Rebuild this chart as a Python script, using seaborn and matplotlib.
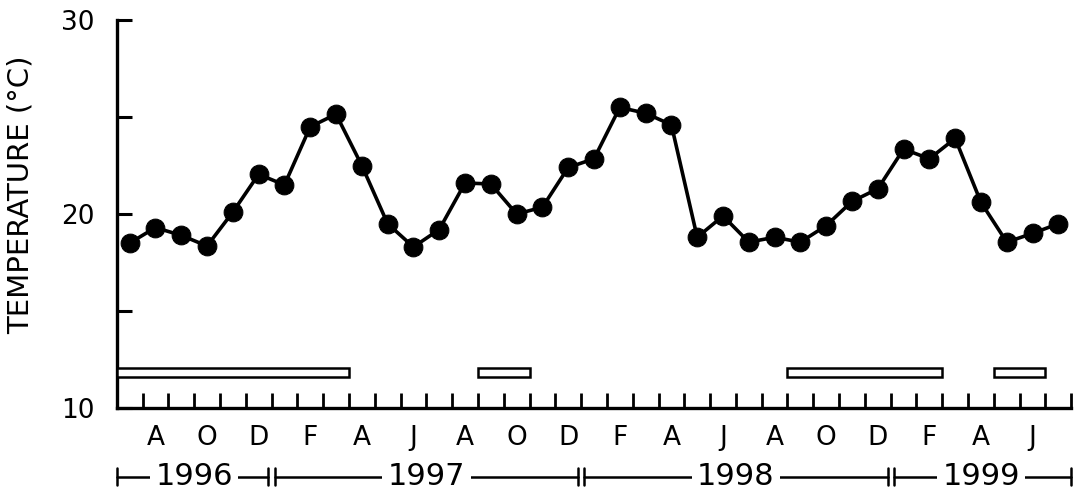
import numpy as np
import matplotlib
matplotlib.use("Agg")
import matplotlib.pyplot as plt
import matplotlib.transforms as mtransforms
import seaborn as sns

# Monthly water temperature, July 1996 - July 1999 (one value per month)
temperature = [
    18.5, 19.3, 18.9, 18.35, 20.1, 22.05, 21.5, 24.5, 25.15, 22.5,
    19.5, 18.3, 19.2, 21.6, 21.55, 20.0, 20.35, 22.4, 22.85,
    25.5, 25.2, 24.6, 18.8, 19.9, 18.55, 18.8, 18.55, 19.4, 20.65,
    21.3, 23.35, 22.85, 23.9, 20.6, 18.55, 19.0, 19.5,
]
# month initials starting from July
month_letters = ["J", "A", "S", "O", "N", "D", "J", "F", "M", "A", "M", "J"]
labelled_months = [1, 3, 5, 7, 9, 11]  # A O D F A J (offsets from July)

# horizontal open bars: (start month index, end month index)
bar_spans = [(0, 9), (14, 16), (26, 32), (34, 36)]
bar_level = 11.83

# calendar-year brackets along the bottom
years = ["1996", "1997", "1998", "1999"]
year_edges = [0, 6, 18, 30, 37]

n_months = len(temperature)
x_centres = np.arange(n_months) + 0.5

sns.set_style("ticks")
plt.rcParams["font.family"] = ["DejaVu Sans"]
plt.rcParams["text.color"] = "black"
plt.rcParams["xtick.color"] = "black"
plt.rcParams["ytick.color"] = "black"
plt.rcParams["axes.labelcolor"] = "black"

fig = plt.figure(figsize=(10.81, 4.92), dpi=100)
ax = fig.add_axes([0.108, 0.171, 0.883, 0.788])

sns.lineplot(
    x=x_centres, y=temperature, ax=ax, color="black", linewidth=2.6,
    marker="o", markersize=13.5, markeredgecolor="black", markerfacecolor="black",
)

# open bars
for start, end in bar_spans:
    ax.barh(bar_level, end - start, left=start, height=0.45,
            color="white", edgecolor="black", linewidth=1.8, zorder=3)

ax.set_xlim(0, n_months)
ax.set_ylim(10, 30)

# axes look
sns.despine(ax=ax)
for side in ["left", "bottom"]:
    ax.spines[side].set_linewidth(2.4)
    ax.spines[side].set_color("black")

ax.set_yticks([10, 15, 20, 25, 30])
ax.set_yticklabels(["10", "", "20", "", "30"], fontsize=19)
ax.tick_params(axis="y", direction="in", length=11, width=2.2, pad=16)

ax.set_xticks(np.arange(1, n_months + 1))
ax.set_xticklabels([])
ax.tick_params(axis="x", which="major", direction="in", length=11, width=2.0)

minor_idx = [i for i in range(n_months - 1) if (i % 12) in labelled_months]
ax.set_xticks([i + 0.5 for i in minor_idx], minor=True)
ax.set_xticklabels([month_letters[i % 12] for i in minor_idx], minor=True, fontsize=19)
ax.tick_params(axis="x", which="minor", length=0, pad=12)

ax.set_ylabel("TEMPERATURE (°C)", fontsize=21)
ax.yaxis.set_label_coords(-0.086, 0.55)

# year brackets
trans = mtransforms.blended_transform_factory(ax.transData, ax.transAxes)
y_line = -0.178
cap = 0.022
gap = 0.12
for yr, a, b in zip(years, year_edges[:-1], year_edges[1:]):
    a2 = a + (gap if a > 0 else 0)
    b2 = b - (gap if b < n_months else 0)
    ax.plot([a2, b2], [y_line, y_line], color="black", lw=1.8,
            transform=trans, clip_on=False)
    for xe in (a2, b2):
        ax.plot([xe, xe], [y_line - cap, y_line + cap], color="black", lw=1.8,
                transform=trans, clip_on=False)
    ax.text((a + b) / 2, y_line, yr, transform=trans, ha="center", va="center",
            fontsize=22, bbox=dict(facecolor="white", edgecolor="none", pad=4))

fig.savefig("out.png", dpi=100, facecolor="white")
